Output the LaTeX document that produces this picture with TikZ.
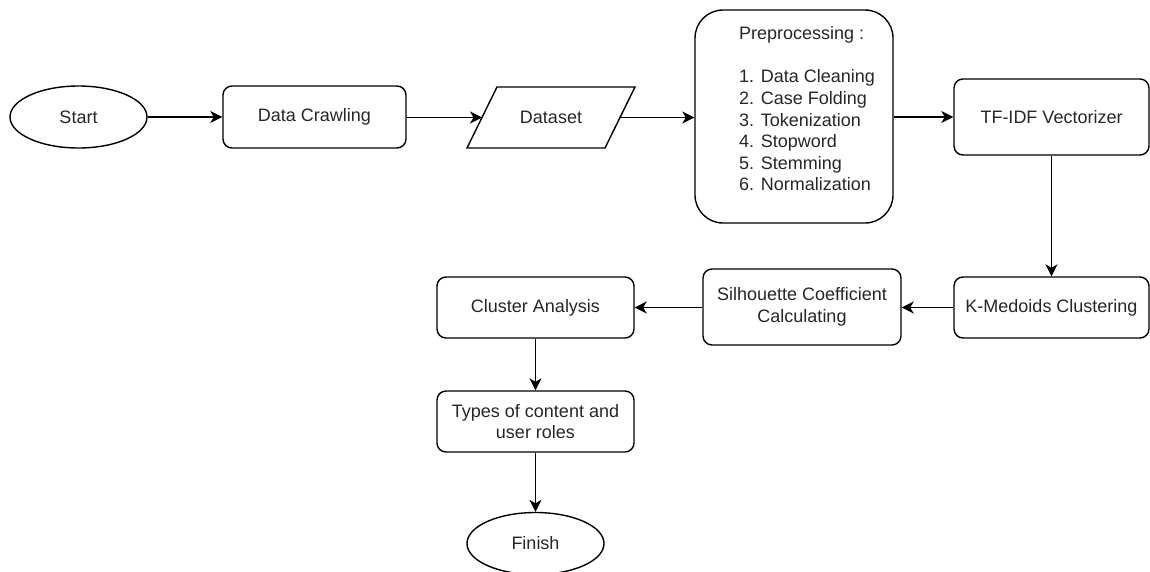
\documentclass[tikz,border=0pt]{standalone}
\usepackage{fontspec}
\setmainfont{Liberation Sans}
\usetikzlibrary{shapes.geometric,arrows.meta}
\begin{document}
\begin{tikzpicture}[x=1pt,y=-1pt,
  every node/.style={font=\fontsize{18}{21.6}\selectfont, text=black!85},
  box/.style={draw=black, line width=1.4pt, rounded corners=9pt, inner sep=0pt, align=center},
  term/.style={draw=black, line width=1.4pt, ellipse, inner sep=0pt},
  arr/.style={draw=black, line width=1.4pt, -{Stealth[length=12pt,width=12pt,inset=3.5pt]}}]
\useasboundingbox (0,0) rectangle (1150,571);

\node[term, minimum width=137pt, minimum height=62pt] (start) at (78.5,117) {Start};
\node[box, minimum width=183pt, minimum height=62pt] (crawl) at (314.5,117) {Data Crawling};

% Dataset (parallelogram)
\coordinate (dsA) at (467,148);
\coordinate (dsB) at (497,87);
\coordinate (dsC) at (635,87);
\coordinate (dsD) at (605,148);
\coordinate (dsL) at (482,117.5);
\coordinate (dsR) at (620,117.5);
\draw[line width=1.4pt, line join=miter] (dsA) -- (dsB) -- (dsC) -- (dsD) -- cycle;
\node (dataset) at (551,117.5) {Dataset};

\node[box, rounded corners=28pt, minimum width=198pt, minimum height=213pt] (pre) at (794,116.5) {};
\node[anchor=north west, align=left, inner sep=0pt] (pretext) at (739,26.5)
  {Preprocessing :\\[21.6pt]1. Data Cleaning\\2. Case Folding\\3. Tokenization\\4. Stopword\\5. Stemming\\6. Normalization};

\node[box, minimum width=195pt, minimum height=76pt] (tfidf) at (1051.5,117) {TF-IDF Vectorizer};
\node[box, minimum width=195pt, minimum height=61pt] (kmed) at (1051.5,307.5) {K-Medoids Clustering};
\node[box, minimum width=198pt, minimum height=76pt] (sil) at (802,307) {Silhouette Coefficient\\Calculating};
\node[box, minimum width=197pt, minimum height=61pt] (cluster) at (535.5,307.5) {Cluster Analysis};
\node[box, minimum width=197pt, minimum height=61pt] (types) at (535.5,421.5) {Types of content and\\user roles};
\node[term, minimum width=137pt, minimum height=62pt] (finish) at (535.5,543.5) {Finish};

\draw[arr] (start) -- (crawl);
\draw[arr] (crawl.east |- dsL) -- (dsL);
\draw[arr] (dsR) -- (dsR -| pre.west);
\draw[arr] (pre.east |- tfidf) -- (tfidf.west);
\draw[arr] (tfidf) -- (kmed);
\draw[arr] (kmed.west) -- (kmed.west -| sil.east);
\draw[arr] (sil.west |- cluster) -- (cluster.east);
\draw[arr] (cluster) -- (types);
\draw[arr] (types) -- (finish);
\end{tikzpicture}
\end{document}
